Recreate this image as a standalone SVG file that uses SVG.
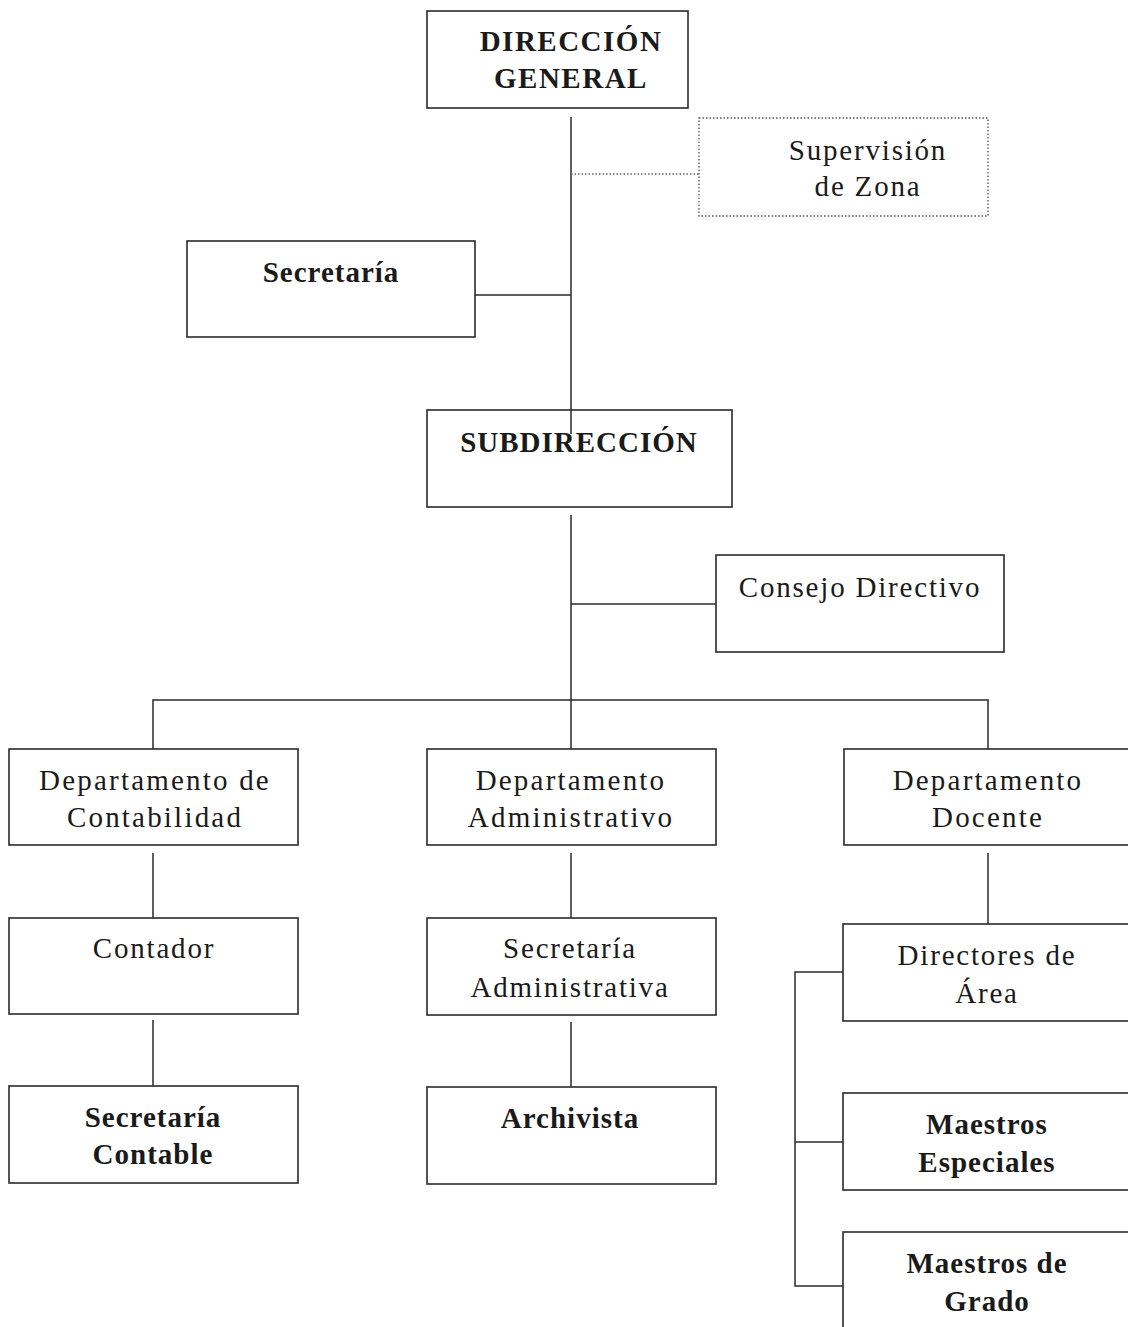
<svg xmlns="http://www.w3.org/2000/svg" width="1128" height="1327" viewBox="0 0 1128 1327">
  <style>
    .box { fill: #ffffff; stroke: #2a2a2a; stroke-width: 1.6; }
    .dotted { fill: #ffffff; stroke: #555555; stroke-width: 1.3; stroke-dasharray: 1.5 2; }
    .link { fill: none; stroke: #2a2a2a; stroke-width: 1.5; }
    .dotlink { fill: none; stroke: #666666; stroke-width: 1.3; stroke-dasharray: 1.5 2; }
    text { font-family: "Liberation Serif", "Times New Roman", serif; font-size: 29px; fill: #1a1a1a; text-anchor: middle; }
    .b { font-weight: bold; letter-spacing: 1px; }
    .r { letter-spacing: 1.8px; }
    .w { letter-spacing: 2.2px; }
  </style>
  <rect width="1128" height="1327" fill="#ffffff"/>

  <!-- connectors -->
  <g id="connectors">
    <path class="link" d="M571 117 V410"/>
    <path class="dotlink" d="M571 174 H699"/>
    <path class="link" d="M475 295 H571"/>
    <path class="link" d="M571 515 V749"/>
    <path class="link" d="M571 604 H716"/>
    <path class="link" d="M153 749 V700 H988 V749"/>
    <path class="link" d="M153 853 V918"/>
    <path class="link" d="M153 1020 V1086"/>
    <path class="link" d="M571 853 V918"/>
    <path class="link" d="M571 1022 V1087"/>
    <path class="link" d="M988 853 V924"/>
    <path class="link" d="M843 972 H795 V1286 H843"/>
    <path class="link" d="M795 1142 H843"/>
  </g>

  <g id="direccion-general">
    <rect class="box" x="427" y="11" width="261" height="97"/>
    <text class="b" x="571" y="51" style="letter-spacing:1.5px">DIRECCIÓN</text>
    <text class="b" x="571" y="88" style="letter-spacing:1.5px">GENERAL</text>
  </g>

  <g id="supervision-zona">
    <rect class="dotted" x="699" y="118" width="289" height="98"/>
    <text class="r" x="868" y="160">Supervisión</text>
    <text class="r" x="868" y="196">de Zona</text>
  </g>

  <g id="secretaria">
    <rect class="box" x="187" y="241" width="288" height="96"/>
    <text class="b" x="331" y="282">Secretaría</text>
  </g>

  <g id="subdireccion">
    <rect class="box" x="427" y="410" width="305" height="97"/>
    <text class="b" x="579" y="452">SUBDIRECCIÓN</text>
  </g>
  <!-- trunk line running a little way into the SUBDIRECCIÓN box -->
  <path class="link" d="M571 410 V434"/>

  <g id="consejo-directivo">
    <rect class="box" x="716" y="555" width="288" height="97"/>
    <text class="r" x="860" y="597">Consejo Directivo</text>
  </g>

  <g id="depto-contabilidad">
    <rect class="box" x="9" y="749" width="289" height="96"/>
    <text class="w" x="155" y="790">Departamento de</text>
    <text class="w" x="155" y="827">Contabilidad</text>
  </g>

  <g id="depto-administrativo">
    <rect class="box" x="427" y="749" width="289" height="96"/>
    <text class="w" x="571" y="790">Departamento</text>
    <text class="w" x="571" y="827">Administrativo</text>
  </g>

  <g id="depto-docente">
    <rect class="box" x="844" y="749" width="290" height="96"/>
    <text class="w" x="988" y="790">Departamento</text>
    <text class="w" x="988" y="827">Docente</text>
  </g>

  <g id="contador">
    <rect class="box" x="9" y="918" width="289" height="96"/>
    <text class="r" x="154" y="958">Contador</text>
  </g>

  <g id="secretaria-contable">
    <rect class="box" x="9" y="1086" width="289" height="97"/>
    <text class="b" x="153" y="1127">Secretaría</text>
    <text class="b" x="153" y="1164">Contable</text>
  </g>

  <g id="secretaria-administrativa">
    <rect class="box" x="427" y="918" width="289" height="97"/>
    <text class="r" x="570" y="958">Secretaría</text>
    <text class="r" x="570" y="997">Administrativa</text>
  </g>

  <g id="archivista">
    <rect class="box" x="427" y="1087" width="289" height="97"/>
    <text class="b" x="570" y="1128">Archivista</text>
  </g>

  <g id="directores-area">
    <rect class="box" x="843" y="924" width="291" height="97"/>
    <text class="r" x="987" y="965">Directores de</text>
    <text class="r" x="987" y="1003">Área</text>
  </g>

  <g id="maestros-especiales">
    <rect class="box" x="843" y="1093" width="291" height="97"/>
    <text class="b" x="987" y="1134">Maestros</text>
    <text class="b" x="987" y="1172">Especiales</text>
  </g>

  <g id="maestros-grado">
    <rect class="box" x="843" y="1232" width="291" height="100"/>
    <text class="b" x="987" y="1273">Maestros de</text>
    <text class="b" x="987" y="1311">Grado</text>
  </g>
</svg>
